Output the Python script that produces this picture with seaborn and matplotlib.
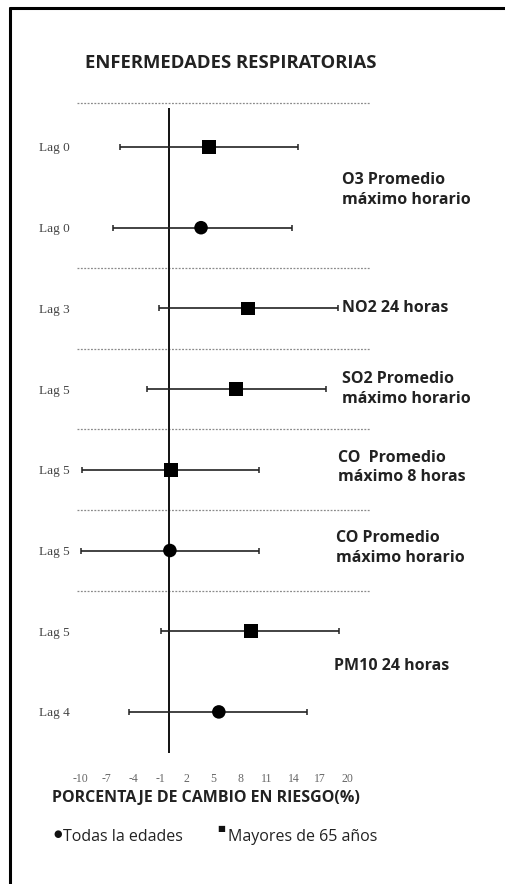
import matplotlib
matplotlib.use("Agg")
import matplotlib.pyplot as plt
from matplotlib.lines import Line2D
import seaborn as sns
import numpy as np
import pandas as pd

# ---------------- data ----------------
lags = ["Lag 0", "Lag 0", "Lag 3", "Lag 5", "Lag 5", "Lag 5", "Lag 5", "Lag 4"]
grupos = ["Mayores de 65 años", "Todas la edades", "Mayores de 65 años",
          "Mayores de 65 años", "Mayores de 65 años", "Todas la edades",
          "Mayores de 65 años", "Todas la edades"]
estimado = [4.5, 3.6, 8.9, 7.5, 0.2, 0.1, 9.2, 5.6]
ic_inf = [-5.5, -6.3, -1.1, -2.5, -9.8, -9.9, -0.9, -4.5]
ic_sup = [14.5, 13.8, 19.0, 17.6, 10.1, 10.1, 19.1, 15.5]
contaminantes = ["O3 Promedio\nmáximo horario", "NO2 24 horas",
                 "SO2 Promedio\nmáximo horario", "CO  Promedio\nmáximo 8 horas",
                 "CO Promedio\nmáximo horario", "PM10 24 horas"]
xticks = [-10, -7, -4, -1, 2, 5, 8, 11, 14, 17, 20]

# ---------------- layout (not data) ----------------
label_rows = [0.53, 2.0, 3.0, 3.97, 4.97, 6.43]
label_x = [19.45, 19.45, 19.45, 19.0, 18.8, 18.5]
separadores = [-0.55, 1.5, 2.5, 3.5, 4.5, 5.5]

df = pd.DataFrame({"lag": lags, "grupo": grupos, "est": estimado,
                   "lo": ic_inf, "hi": ic_sup})
df["row"] = np.arange(len(df))

sns.set_theme(style="white")
plt.rcParams["font.family"] = ["Open Sans", "DejaVu Sans"]

W, H = 506, 884
fig = plt.figure(figsize=(W / 100, H / 100), dpi=100)
fig.patch.set_facecolor("white")

px0, zero_px, scale = 74, 169, 8.9
ax = fig.add_axes([px0 / W, 1 - 760 / H, (400 - px0) / W, (760 - 95) / H])
ax.set_xlim((px0 - zero_px) / scale, (400 - zero_px) / scale)
row_top, row_step = 147, 80.7
ax.set_ylim((760 - row_top) / row_step, (95 - row_top) / row_step)
ax.set_facecolor("none")

# separators
for s in separadores:
    ax.plot([-10.3, 22.6], [s, s], color="#8a8a8a", lw=0.9,
            ls=(0, (1.5, 1.2)), zorder=1)

# vertical zero line
ax.vlines(0, (108 - row_top) / row_step, (753 - row_top) / row_step,
          color="#111111", lw=1.4, zorder=2)

# error bars
ax.errorbar(df["est"], df["row"], xerr=[df["est"] - df["lo"], df["hi"] - df["est"]],
            fmt="none", ecolor="#222222", elinewidth=1.2, capsize=2.5,
            capthick=1.1, zorder=3)

sns.scatterplot(data=df, x="est", y="row", style="grupo",
                markers={"Todas la edades": "o", "Mayores de 65 años": "s"},
                color="black", s=95, linewidth=0, legend=False, ax=ax, zorder=4)

# ticks
ax.set_xticks(xticks)
ax.set_xticklabels([str(t) for t in xticks], family="Liberation Serif",
                   fontsize=8.5, color="#666666")
ax.set_yticks(df["row"])
ax.set_yticklabels(df["lag"], family="Liberation Serif", fontsize=9.5,
                   color="#444444")
ax.tick_params(axis="x", length=0, pad=9)
ax.tick_params(axis="y", length=0, pad=3)
ax.set_xlabel("")
ax.set_ylabel("")
for sp in ax.spines.values():
    sp.set_visible(False)

# pollutant labels
for lab, r, x in zip(contaminantes, label_rows, label_x):
    ax.text(x, r, lab, fontsize=11.5, fontweight="bold", color="#222222",
            va="center", ha="left", linespacing=1.3)

# title, axis label, legend
fig.text(85 / W, 1 - 63 / H, "ENFERMEDADES RESPIRATORIAS", fontsize=13.3,
         fontweight="bold", color="#222222", va="center", ha="left")
fig.text(52 / W, 1 - 798 / H, "PORCENTAJE DE CAMBIO EN RIESGO(%)", fontsize=11.5,
         fontweight="bold", color="#222222", va="center", ha="left")
fig.text(53 / W, 1 - 834 / H, "●", fontsize=7, color="#111111",
         va="center", ha="left", family=["DejaVu Sans"])
fig.text(63 / W, 1 - 837 / H, "Todas la edades", fontsize=11.5,
         color="#222222", va="center", ha="left")
fig.text(217 / W, 1 - 829 / H, "■", fontsize=6, color="#111111",
         va="center", ha="left", family=["DejaVu Sans"])
fig.text(228 / W, 1 - 837 / H, "Mayores de 65 años", fontsize=11.5,
         color="#222222", va="center", ha="left")

# frame border (top and left)
fig.add_artist(Line2D([10 / W, 10 / W], [0, 1 - 8 / H], color="black", lw=2.2))
fig.add_artist(Line2D([10 / W, 1], [1 - 8 / H, 1 - 8 / H], color="black", lw=2.2))

fig.savefig("out.png", dpi=100, facecolor="white")
